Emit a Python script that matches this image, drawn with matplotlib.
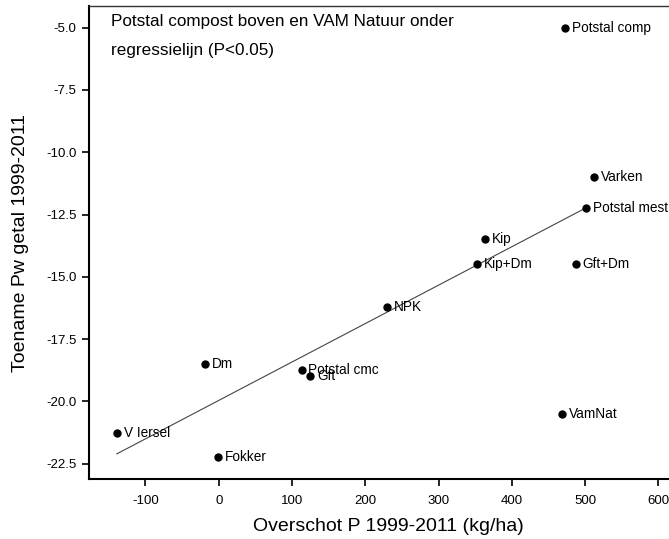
import matplotlib
matplotlib.use("Agg")
import matplotlib.pyplot as plt

plt.rcParams['font.family'] = ['Liberation Sans', 'DejaVu Sans']

# Data
names = ['Potstal comp', 'Varken', 'Potstal mest', 'Kip', 'Kip+Dm', 'Gft+Dm',
         'NPK', 'Dm', 'Potstal cmc', 'Gft', 'VamNat', 'V Iersel', 'Fokker']
overschot = [473, 512, 501, 363, 353, 487, 230, -19, 113, 125, 469, -139, -1]
toename = [-5.0, -11.0, -12.25, -13.5, -14.5, -14.5, -16.22, -18.5, -18.75,
           -19.0, -20.5, -21.26, -22.25]

# Regressielijn (eindpunten)
fit_x = [-139, 500]
fit_y = [-22.11, -12.25]

xticks = [-100, 0, 100, 200, 300, 400, 500, 600]
yticks = [-5.0, -7.5, -10.0, -12.5, -15.0, -17.5, -20.0, -22.5]

fig = plt.figure(figsize=(6.69, 5.39), dpi=100)
ax = fig.add_axes([0.133, 0.1108, 0.895, 0.878])

ax.plot(fit_x, fit_y, color='#444444', lw=0.8)
ax.plot(overschot, toename, 'o', color='black', ms=5)
for n, x, y in zip(names, overschot, toename):
    ax.annotate(n, (x, y), xytext=(5, 0), textcoords='offset points',
                va='center', ha='left', fontsize=9.8)

ax.text(-147, -4.77, 'Potstal compost boven en VAM Natuur onder',
        fontsize=12.3, va='center', ha='left')
ax.text(-147, -5.9, 'regressielijn (P<0.05)', fontsize=12.3, va='center', ha='left')

ax.set_xlim(-177, 640)
ax.set_ylim(-23.13, -4.13)
ax.set_xticks(xticks)
ax.set_yticks(yticks)
ax.set_xticklabels([str(t) for t in xticks])
ax.set_yticklabels(['%.1f' % t for t in yticks])
ax.tick_params(direction='out', length=5, width=1.2, labelsize=9.5)
ax.tick_params(axis='x', pad=6)
ax.tick_params(axis='y', pad=4)

for s in ['left', 'bottom']:
    ax.spines[s].set_linewidth(1.5)
ax.spines['top'].set_linewidth(1.0)
ax.spines['top'].set_color('#333333')

ax.set_xlabel('Overschot P 1999-2011 (kg/ha)', fontsize=14, labelpad=8)
ax.set_ylabel('Toename Pw getal 1999-2011', fontsize=14, labelpad=12)

plt.savefig("out.png", dpi=100)
